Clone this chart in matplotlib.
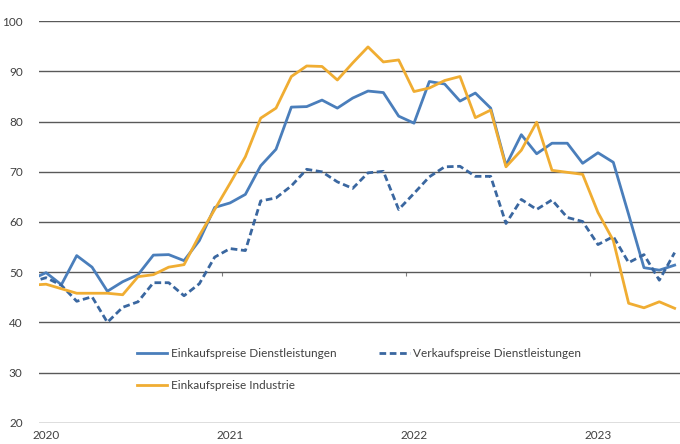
import matplotlib

matplotlib.use("Agg")
import matplotlib.pyplot as plt

# Monthly values Dec 2019 .. Jun 2023 (Dec 2019 is cut off by the axis limit)
months = list(range(-1, 42))

einkauf_dl = [
    48.5, 49.9, 47.5, 53.3, 51.0, 46.2, 48.1, 49.5, 53.4, 53.5, 52.3, 56.3,
    62.9, 63.8, 65.5, 71.2, 74.5, 82.9, 83.0, 84.3, 82.7, 84.7, 86.1,
    85.8, 81.1, 79.7, 88.0, 87.5, 84.1, 85.7, 82.7, 71.3, 77.4, 73.6,
    75.7, 75.7, 71.7, 73.8, 71.9, 61.5, 50.9, 50.4, 51.4,
]
verkauf_dl = [
    48.0, 48.9, 47.4, 44.2, 45.1, 40.0, 43.0, 44.1, 47.9, 47.9, 45.3, 47.7,
    53.0, 54.7, 54.3, 64.2, 64.8, 67.2, 70.5, 70.0, 68.0, 66.7, 69.8,
    70.1, 62.5, 65.7, 69.0, 71.0, 71.1, 69.1, 69.1, 59.7, 64.5, 62.5,
    64.4, 60.9, 60.1, 55.5, 57.1, 51.9, 53.5, 48.4, 53.9,
]
einkauf_ind = [
    47.4, 47.6, 46.7, 45.8, 45.8, 45.8, 45.5, 49.1, 49.5, 51.0, 51.5, 57.3,
    62.5, 67.7, 73.0, 80.7, 82.7, 89.0, 91.1, 91.0, 88.3, 91.7, 94.9,
    91.9, 92.3, 86.0, 86.7, 88.2, 89.0, 80.8, 82.3, 71.0, 74.3, 79.9,
    70.3, 69.9, 69.5, 61.9, 56.3, 43.8, 42.9, 44.1, 42.8,
]

year_pos = [0, 12, 24, 36]
year_labels = ["2020", "2021", "2022", "2023"]
year_breaks = [11.5, 23.5, 35.5]

BLUE = "#4A7EBB"
BLUE_DARK = "#3A67A0"
ORANGE = "#F0AD32"
GRID = "#595959"
FONT = "Lato"


def plot():
    plt.rcParams["font.family"] = [FONT, "DejaVu Sans"]

    fig = plt.figure(figsize=(6.8, 4.44), dpi=100)
    ax = fig.add_axes([0.0578, 0.048, 0.9422, 0.904])

    l1, = ax.plot(months, einkauf_dl, color=BLUE, lw=2.0,
                  label="Einkaufspreise Dienstleistungen")
    l2, = ax.plot(months, verkauf_dl, color=BLUE_DARK, lw=2.0,
                  dashes=(2.4, 1.3), label="Verkaufspreise Dienstleistungen")
    l3, = ax.plot(months, einkauf_ind, color=ORANGE, lw=2.0,
                  label="Einkaufspreise Industrie")

    # Aesthetics
    ax.set_xlim(-0.44, 41.35)
    ax.set_ylim(20, 100)
    ax.set_yticks(range(20, 101, 10))
    ax.yaxis.grid(True, color=GRID, lw=1.0)
    ax.set_axisbelow(True)
    for s in ax.spines.values():
        s.set_visible(False)
    ax.tick_params(axis="y", length=0, pad=12, labelsize=8.5, labelcolor="#404040")

    ax.set_xticks(year_pos)
    ax.set_xticklabels(year_labels)
    ax.tick_params(axis="x", length=0, pad=5, labelsize=8.5, labelcolor="#404040")

    # horizontal axis crosses at 50, with small year ticks
    sec = ax.secondary_xaxis(0.375)
    sec.set_xticks(year_breaks)
    sec.set_xticklabels([])
    sec.tick_params(axis="x", direction="out", length=3, width=0.8, color="#808080")
    sec.spines["bottom"].set_visible(False)
    sec.spines["top"].set_visible(False)

    ax.legend(
        [l1, l3, l2],
        [l1.get_label(), l3.get_label(), l2.get_label()],
        ncol=2,
        loc="upper left",
        bbox_to_anchor=(0.152, 0.186),
        frameon=False,
        fontsize=8.5,
        handlelength=2.6,
        handletextpad=0.3,
        columnspacing=3.6,
        labelspacing=1.75,
        borderpad=0,
        borderaxespad=0,
        labelcolor="#404040",
    )

    fig.savefig("out.png", dpi=100)


plot()
